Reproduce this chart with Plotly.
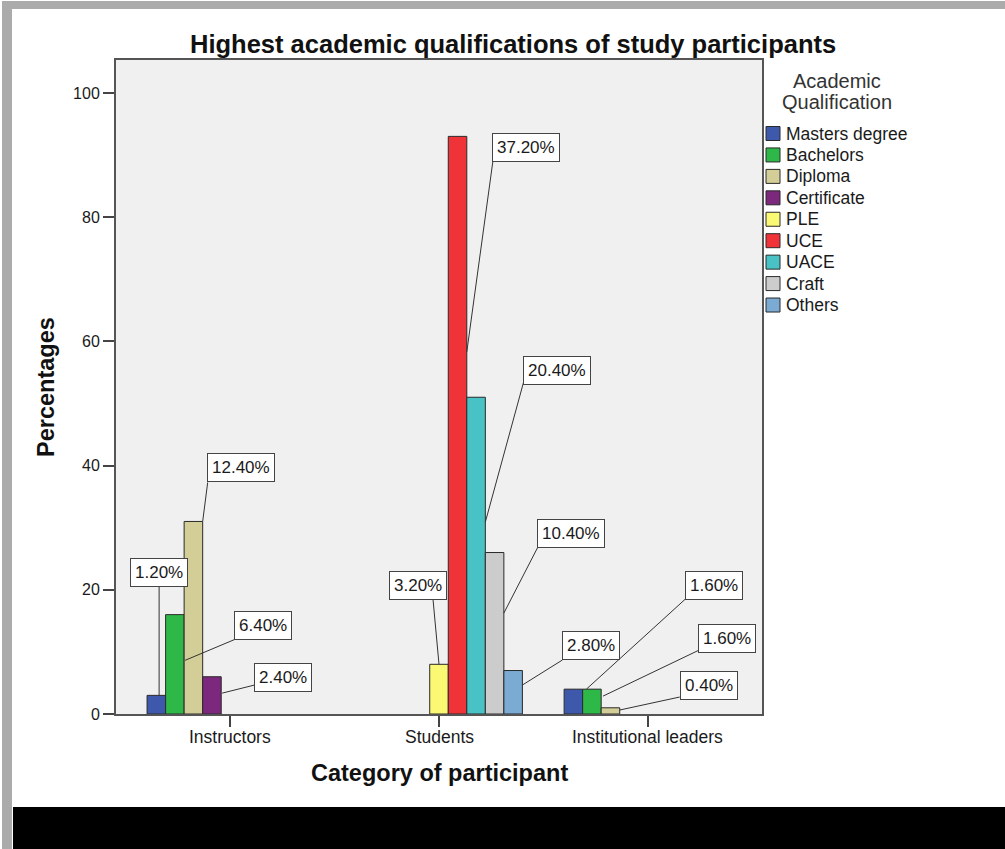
import plotly.graph_objects as go

# ---- data -------------------------------------------------------------
categories = ["Instructors", "Students", "Institutional leaders"]
qualifications = ["Masters degree", "Bachelors", "Diploma", "Certificate",
                  "PLE", "UCE", "UACE", "Craft", "Others"]

# number of respondents per qualification, in category order (None = nobody)
masters = [3, None, 4]
bachelors = [16, None, 4]
diploma = [31, None, 1]
certificate = [6, None, None]
ple = [None, 8, None]
uce = [None, 93, None]
uace = [None, 51, None]
craft = [None, 26, None]
others = [None, 7, None]

series = [masters, bachelors, diploma, certificate, ple, uce, uace, craft, others]
colors = ["#3E58AC", "#2EB848", "#D3CE97", "#7C287D", "#FBF873",
          "#EF3338", "#48C2C5", "#CCCCCC", "#7BAAD2"]

y_ticks = [0, 20, 40, 60, 80, 100]

total = sum(v for s in series for v in s if v is not None)

# ---- geometry ---------------------------------------------------------
W, H = 1005, 849
L, R, T, B = 116, 762, 60, 714          # plot area in pixels
X_RANGE = [-0.549, 2.549]
Y_RANGE = [0, 105.3]
BARGAP = 0.2
SLOT = (1 - BARGAP) / len(qualifications)

FONT = "Liberation Sans, Arial, sans-serif"


def px_x(px):
    return (px - L) / (R - L)


def px_y(py):
    return (B - py) / (B - T)


fig = go.Figure()
for name, vals, col in zip(qualifications, series, colors):
    fig.add_trace(go.Bar(
        name=name, x=categories, y=vals,
        marker=dict(color=col, line=dict(color="#2a2a2a", width=1)),
        showlegend=False,
    ))

# ---- percentage call-outs --------------------------------------------
# (series, category, anchor across bar, anchor height fraction,
#  box centre offset px (dx, dy), leader-line end offset px (dx, dy))
callouts = [
    (0, 0, 0.15, 1.0, (0, -123), (0, -109)),
    (1, 0, 0.55, 0.54, (78, -35), (50, -21)),
    (2, 0, 0.5, 1.0, (38, -54), (5, -39)),
    (3, 0, 0.55, 0.56, (61, -16), (32, -8)),
    (4, 1, 0.0, 1.0, (-21, -79), (-6, -65)),
    (5, 1, 0.5, 0.627, (59, -204), (26, -190)),
    (6, 1, 0.5, 0.606, (72, -152), (38, -139)),
    (7, 1, 0.5, 0.625, (67, -80), (34, -66)),
    (8, 1, 0.5, 0.667, (69, -40), (40, -25)),
    (0, 2, 0.7, 1.0, (128, -104), (100, -91)),
    (1, 2, 0.6, 0.72, (124, -58), (96, -46)),
    (2, 2, 0.5, 0.64, (89, -25), (60, -13)),
]

annotations = []
shapes = []
for si, ci, fx, fy, (bx, by), (lx, ly) in callouts:
    v = series[si][ci]
    xpos = ci + (si - (len(qualifications) - 1) / 2) * SLOT + fx * SLOT
    ypos = v * fy
    shapes.append(dict(
        type="line", xref="x", yref="y",
        xsizemode="pixel", ysizemode="pixel", xanchor=xpos, yanchor=ypos,
        x0=0, y0=0, x1=lx, y1=-ly,
        line=dict(color="#333333", width=1),
    ))
    annotations.append(dict(
        x=xpos, y=ypos, xref="x", yref="y", xshift=bx, yshift=-by,
        xanchor="center", yanchor="middle",
        text=f"{v / total * 100:.2f}%", showarrow=False,
        bgcolor="white", bordercolor="#444444", borderwidth=1, borderpad=4,
        font=dict(family=FONT, size=17, color="#1a1a1a"),
    ))

# category labels under the ticks
for i, cat in enumerate(categories):
    annotations.append(dict(
        text=cat, x=i, y=px_y(737), xref="x", yref="paper",
        showarrow=False, xanchor="center", yanchor="middle",
        font=dict(family=FONT, size=17.5, color="#1a1a1a"),
    ))

# ---- titles -----------------------------------------------------------
annotations.append(dict(
    text="<b>Highest academic qualifications of study participants</b>",
    x=px_x(513), y=px_y(44), xref="paper", yref="paper",
    showarrow=False, xanchor="center", yanchor="middle",
    font=dict(family=FONT, size=25.5, color="#111111"),
))
annotations.append(dict(
    text="<b>Category of participant</b>",
    x=px_x(439), y=px_y(773), xref="paper", yref="paper",
    showarrow=False, xanchor="center", yanchor="middle",
    font=dict(family=FONT, size=23.5, color="#111111"),
))
annotations.append(dict(
    text="<b>Percentages</b>", textangle=-90,
    x=px_x(46), y=px_y(387), xref="paper", yref="paper",
    showarrow=False, xanchor="center", yanchor="middle",
    font=dict(family=FONT, size=23.5, color="#111111"),
))

# ---- legend drawn beside the plot ------------------------------------
for i, line in enumerate(["Academic", "Qualification"]):
    annotations.append(dict(
        text=line, x=px_x(837), y=px_y(81 + 21 * i), xref="paper", yref="paper",
        showarrow=False, xanchor="center", yanchor="middle",
        font=dict(family=FONT, size=20, color="#333333"),
    ))

row0, row_step = 133.5, 21.44
for i, (name, col) in enumerate(zip(qualifications, colors)):
    cy = row0 + i * row_step
    shapes.append(dict(
        type="rect", xref="paper", yref="paper",
        x0=px_x(766), x1=px_x(780), y0=px_y(cy + 7), y1=px_y(cy - 7),
        fillcolor=col, line=dict(color="#2a2a2a", width=1),
    ))
    annotations.append(dict(
        text=name, x=px_x(784), y=px_y(cy), xref="paper", yref="paper",
        showarrow=False, xanchor="left", yanchor="middle",
        font=dict(family=FONT, size=17.5, color="#1a1a1a"),
    ))

# ---- frame around the page --------------------------------------------
frame = "#ABABAB"
shapes += [
    dict(type="rect", xref="paper", yref="paper", layer="above",
         x0=px_x(2), x1=px_x(12), y0=px_y(H), y1=px_y(1),
         fillcolor=frame, line=dict(width=0)),
    dict(type="rect", xref="paper", yref="paper", layer="above",
         x0=px_x(2), x1=px_x(W), y0=px_y(9), y1=px_y(1),
         fillcolor=frame, line=dict(width=0)),
    dict(type="rect", xref="paper", yref="paper", layer="above",
         x0=px_x(13), x1=px_x(W), y0=px_y(H), y1=px_y(807),
         fillcolor="#000000", line=dict(width=0)),
]

fig.update_layout(
    width=W, height=H,
    margin=dict(l=L, r=W - R, t=T, b=H - B, pad=0),
    paper_bgcolor="white", plot_bgcolor="#F0F0F0",
    barmode="group", bargap=BARGAP, bargroupgap=0,
    font=dict(family=FONT, color="#1a1a1a"),
    annotations=annotations, shapes=shapes,
    showlegend=False,
)
fig.update_xaxes(
    type="category", range=X_RANGE,
    showline=True, linecolor="#555555", linewidth=2, mirror=True,
    ticks="outside", ticklen=11, tickcolor="#444444", tickwidth=1.5,
    showticklabels=False,
    showgrid=False, zeroline=False,
)
fig.update_yaxes(
    range=Y_RANGE, tickvals=y_ticks,
    showline=True, linecolor="#555555", linewidth=2, mirror=True,
    ticks="outside", ticklen=11, tickcolor="#444444", tickwidth=1.5,
    tickfont=dict(family=FONT, size=16, color="#1a1a1a"),
    showgrid=False, zeroline=False,
)

fig.write_html("out.html")
